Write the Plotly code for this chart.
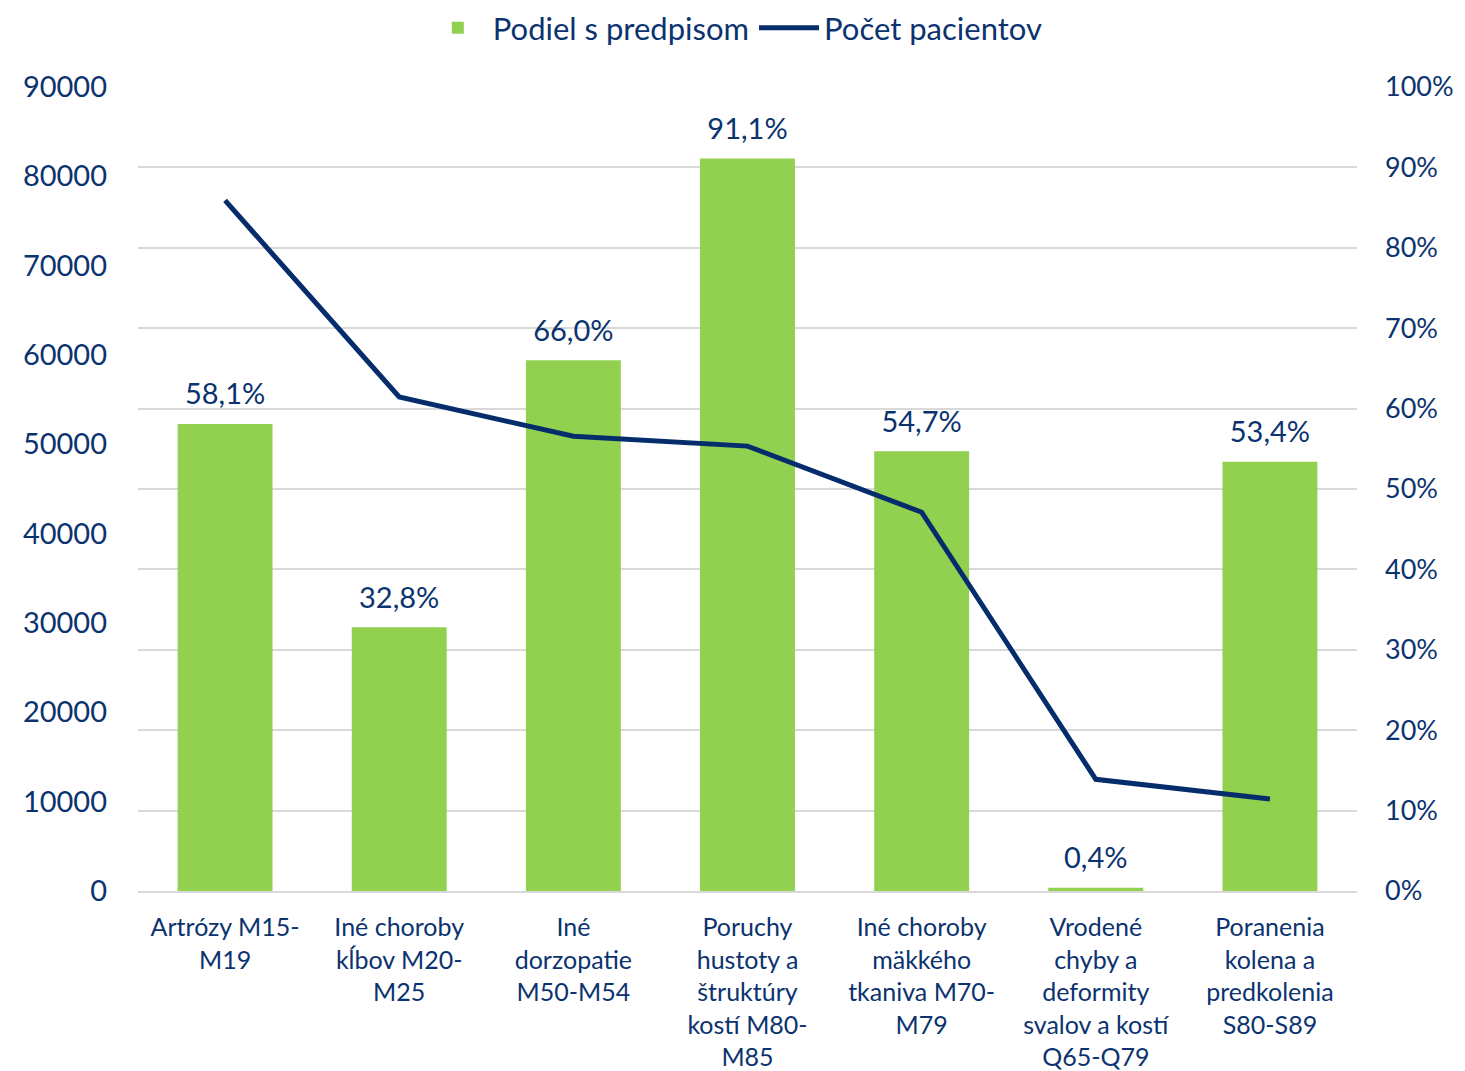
import plotly.graph_objects as go

categories = [
    "Artrózy M15-<br>M19",
    "Iné choroby<br>kĺbov M20-<br>M25",
    "Iné<br>dorzopatie<br>M50-M54",
    "Poruchy<br>hustoty a<br>štruktúry<br>kostí M80-<br>M85",
    "Iné choroby<br>mäkkého<br>tkaniva M70-<br>M79",
    "Vrodené<br>chyby a<br>deformity<br>svalov a kostí<br>Q65-Q79",
    "Poranenia<br>kolena a<br>predkolenia<br>S80-S89",
]
share_pct = [58.1, 32.8, 66.0, 91.1, 54.7, 0.4, 53.4]
patients = [77300, 55300, 50900, 49800, 42400, 12500, 10300]

share_labels = [f"{v:.1f}%".replace(".", ",") for v in share_pct]
right_ticks = list(range(0, 101, 10))
left_ticks = list(range(0, 90001, 10000))

NAVY = "#0b336f"
GREEN = "#92d050"
FONT = "Lato"

fig = go.Figure()
fig.add_trace(go.Bar(
    x=categories, y=share_pct, name="Podiel s predpisom",
    marker=dict(color=GREEN, line=dict(width=0)),
    yaxis="y",
))
fig.add_trace(go.Scatter(
    x=categories, y=share_pct, mode="markers+text", text=share_labels,
    textposition="top center", showlegend=False, hoverinfo="skip",
    marker=dict(size=18, color="rgba(0,0,0,0)"), cliponaxis=False,
    textfont=dict(size=29, color=NAVY, family=FONT),
    yaxis="y",
))
fig.add_trace(go.Scatter(
    x=categories, y=patients, name="Počet pacientov", mode="lines",
    line=dict(color="#062d6b", width=5),
    yaxis="y2",
))

fig.update_layout(
    width=1465, height=1071,
    margin=dict(l=130, r=116, t=79, b=188, autoexpand=False),
    plot_bgcolor="white", paper_bgcolor="white",
    font=dict(family=FONT, color=NAVY, size=26),
    bargap=0.455,
    showlegend=True,
    legend=dict(orientation="h", x=0.49, xanchor="center",
                y=1 - 20 / 1071, yanchor="middle", yref="container",
                font=dict(size=31, color=NAVY, family=FONT),
                itemwidth=60, tracegroupgap=30),
    xaxis=dict(showgrid=False, showline=True, linecolor="#d9d9d9", linewidth=2,
               tickfont=dict(size=25, color=NAVY, family=FONT),
               ticks="", ticklabelstandoff=13, automargin=False),
    yaxis=dict(side="right", range=[0, 100], tickvals=right_ticks,
               ticktext=[f"{v}%" for v in right_ticks],
               showgrid=True, gridcolor="#d9d9d9", gridwidth=2,
               zeroline=False, showline=False,
               tickfont=dict(size=27, color=NAVY, family=FONT),
               ticks="", ticklabelstandoff=27, automargin=False),
    yaxis2=dict(side="left", overlaying="y", range=[0, 90000], tickvals=left_ticks,
                ticktext=[str(v) for v in left_ticks],
                showgrid=False, zeroline=False, showline=False,
                tickfont=dict(size=29, color=NAVY, family=FONT),
                ticks="", ticklabelstandoff=30, automargin=False),
)

fig.write_html("out.html")
